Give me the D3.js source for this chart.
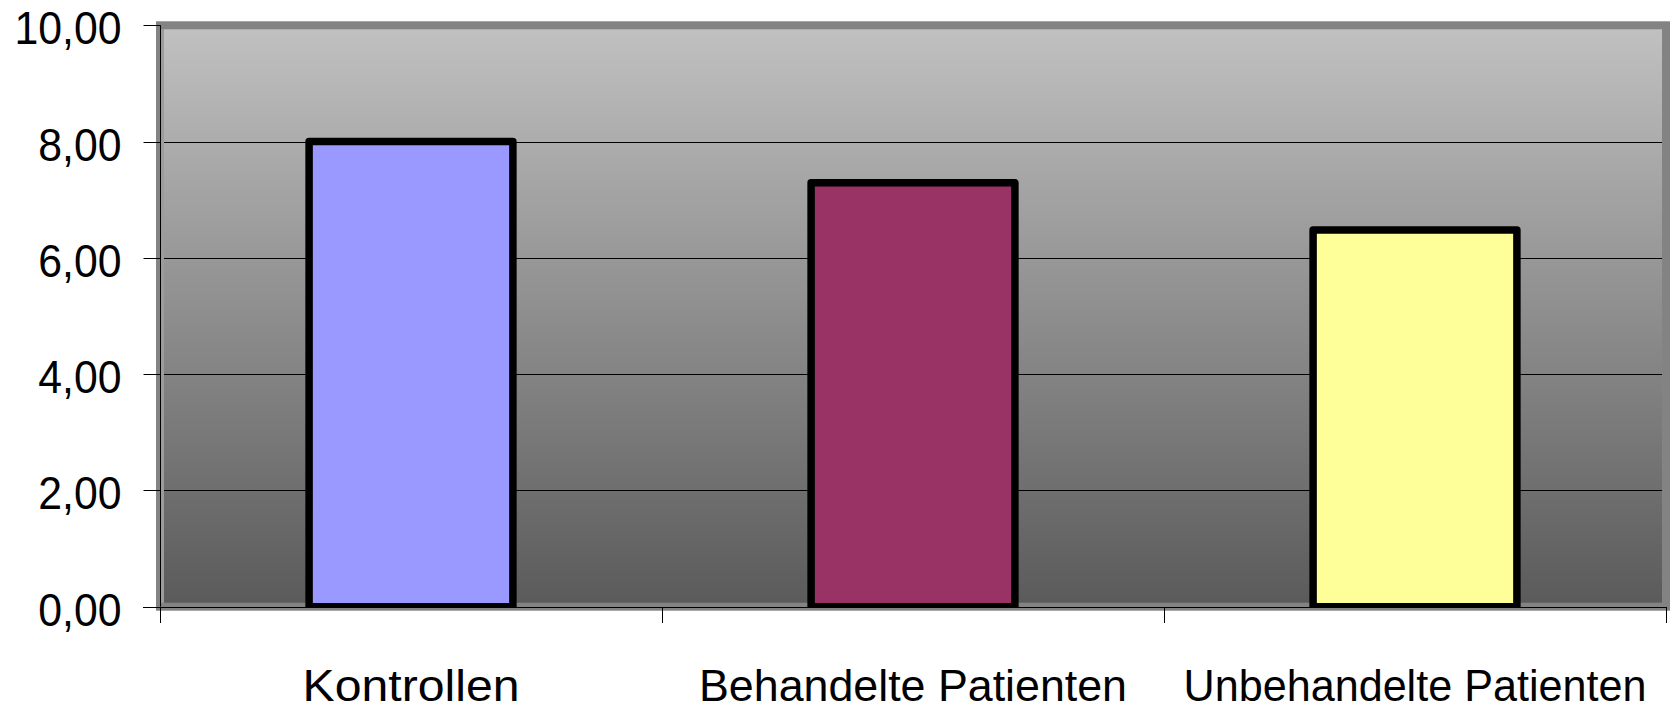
<!DOCTYPE html>
<html>
<head>
<meta charset="utf-8">
<script src="https://cdn.jsdelivr.net/npm/d3@7"></script>
<style>
  body { margin: 0; background: #ffffff; }
  svg { display: block; }
</style>
</head>
<body>
<svg id="chart" width="1670" height="711"></svg>
<script>
// Chart data
const categories = ["Kontrollen", "Behandelte Patienten", "Unbehandelte Patienten"];
const values = [8.00, 7.29, 6.48];
const barColors = ["#9999FF", "#993366", "#FFFF99"];
const yTicks = [0, 2, 4, 6, 8, 10];

// Layout
const plot = { left: 160, right: 1666, top: 25.3, bottom: 606.7 };
const fontFamily = "'Liberation Sans', Arial, sans-serif";
const fontSize = 46;
const categoryFontSize = 44;
const categoryLabelWidths = [217, 428, 463];

const svg = d3.select("#chart");

const x = d3.scaleBand()
  .domain(categories)
  .range([plot.left, plot.right])
  .paddingInner(0.594)
  .paddingOuter(0.297);

const y = d3.scaleLinear()
  .domain([0, 10])
  .range([plot.bottom, plot.top]);

const fmt = d => d3.format(".2f")(d).replace(".", ",");

// Plot-area background: vertical grey gradient
const defs = svg.append("defs");
const grad = defs.append("linearGradient")
  .attr("id", "plotFill")
  .attr("x1", 0).attr("y1", 0).attr("x2", 0).attr("y2", 1);
grad.append("stop").attr("offset", "0%").attr("stop-color", "#c1c1c1");
grad.append("stop").attr("offset", "100%").attr("stop-color", "#5a5a5a");

defs.append("clipPath").attr("id", "barClip")
  .append("rect")
  .attr("x", 0).attr("y", 0)
  .attr("width", 1670).attr("height", y(0) + 0.5);

svg.append("rect")
  .attr("x", plot.left).attr("y", plot.top)
  .attr("width", plot.right - plot.left)
  .attr("height", plot.bottom - plot.top)
  .attr("fill", "url(#plotFill)");

// Horizontal gridlines
svg.append("g")
  .selectAll("line")
  .data(yTicks.filter(d => d > 0 && d < 10))
  .join("line")
  .attr("x1", plot.left).attr("x2", plot.right)
  .attr("y1", d => Math.round(y(d)) + 0.5)
  .attr("y2", d => Math.round(y(d)) + 0.5)
  .attr("stroke", "#000")
  .attr("stroke-width", 1);

// Plot-area border
svg.append("rect")
  .attr("x", plot.left).attr("y", plot.top)
  .attr("width", plot.right - plot.left)
  .attr("height", plot.bottom - plot.top)
  .attr("fill", "none")
  .attr("stroke", "#838383")
  .attr("stroke-width", 8);
svg.append("line")
  .attr("x1", plot.left + 2.5).attr("x2", plot.left + 2.5)
  .attr("y1", plot.top + 4).attr("y2", plot.bottom - 4)
  .attr("stroke", "#9c9c9c")
  .attr("stroke-width", 3);

// Bars
svg.append("g")
  .attr("clip-path", "url(#barClip)")
  .selectAll("rect")
  .data(categories.map((c, i) => ({ c, v: values[i], color: barColors[i] })))
  .join("rect")
  .attr("x", d => x(d.c))
  .attr("y", d => y(d.v))
  .attr("width", x.bandwidth())
  .attr("height", d => y(0) - y(d.v))
  .attr("fill", d => d.color)
  .attr("stroke", "#000")
  .attr("stroke-width", 7.5)
  .attr("stroke-linejoin", "round");

// Y axis
const yAxis = svg.append("g")
  .attr("transform", `translate(${plot.left + 0.5},0)`)
  .call(d3.axisLeft(y)
    .tickValues(yTicks)
    .tickSize(17)
    .tickPadding(22)
    .tickFormat(fmt));
yAxis.select(".domain").remove();
yAxis.selectAll(".tick").attr("transform", d => `translate(0,${Math.round(y(d)) + 0.5})`);
yAxis.selectAll(".tick line").attr("stroke", "#000");
yAxis.selectAll(".tick text")
  .attr("dy", "0.41em")
  .attr("fill", "#000")
  .style("font-family", fontFamily)
  .style("font-size", fontSize + "px")
  .each(function () {
    const len = this.getComputedTextLength();
    d3.select(this).attr("textLength", len * 0.93).attr("lengthAdjust", "spacingAndGlyphs");
  });
svg.append("line")
  .attr("x1", plot.left + 0.5).attr("x2", plot.left + 0.5)
  .attr("y1", y(10)).attr("y2", y(0))
  .attr("stroke", "#000");

// X axis line and category boundary ticks
svg.append("line")
  .attr("x1", plot.left - 17).attr("x2", plot.right)
  .attr("y1", Math.round(y(0)) + 0.5).attr("y2", Math.round(y(0)) + 0.5)
  .attr("stroke", "#000");
svg.append("g")
  .selectAll("line")
  .data(d3.range(categories.length + 1))
  .join("line")
  .attr("x1", i => Math.round(plot.left + i * x.step()) + 0.5)
  .attr("x2", i => Math.round(plot.left + i * x.step()) + 0.5)
  .attr("y1", Math.round(y(0)))
  .attr("y2", Math.round(y(0)) + 16)
  .attr("stroke", "#000");

// Category labels
const xAxis = svg.append("g")
  .attr("transform", `translate(0,${plot.bottom})`)
  .call(d3.axisBottom(x).tickSize(0).tickPadding(63));
xAxis.select(".domain").remove();
xAxis.selectAll(".tick text")
  .attr("fill", "#000")
  .style("font-family", fontFamily)
  .style("font-size", categoryFontSize + "px")
  .attr("textLength", (d, i) => categoryLabelWidths[i])
  .attr("lengthAdjust", "spacingAndGlyphs");
</script>
</body>
</html>
